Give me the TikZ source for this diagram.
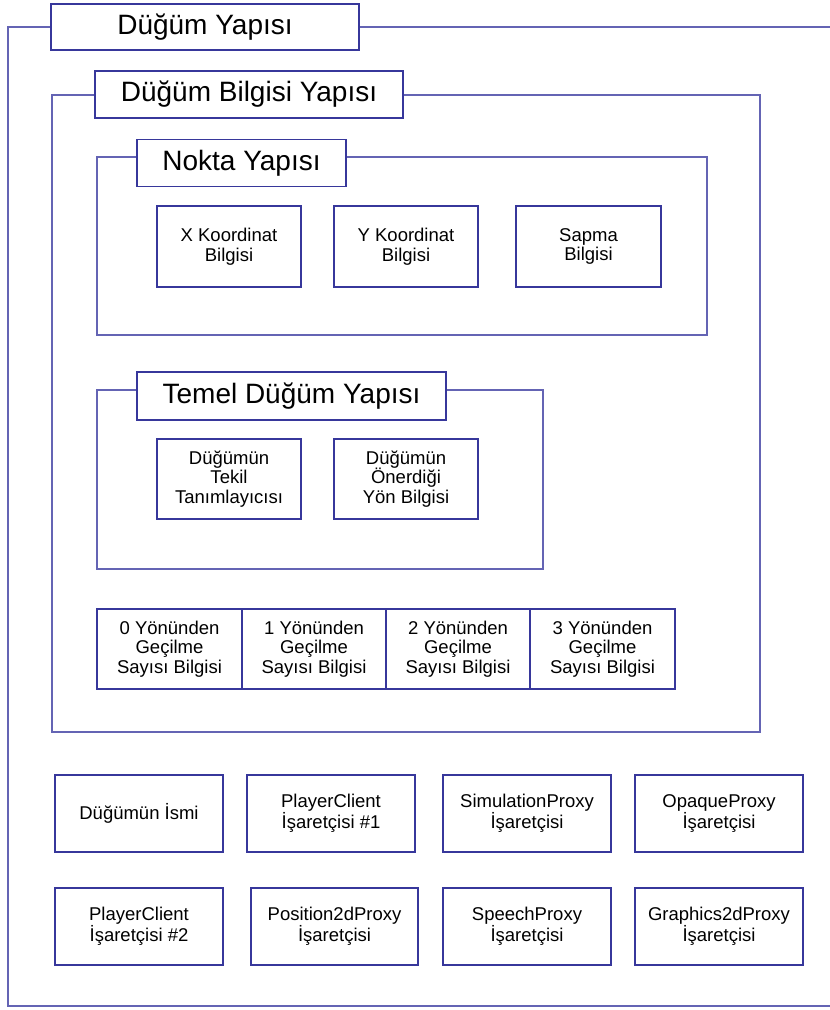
\documentclass[tikz,border=0pt]{standalone}
\usepackage{fontspec}
\setmainfont{Liberation Sans}
\definecolor{boxline}{RGB}{55,55,155}
\definecolor{frameline}{RGB}{100,100,180}
\begin{document}
\begin{tikzpicture}[x=1pt,y=-1pt,
  framepath/.style={draw=frameline, line width=1.2pt},
  sz/.style 2 args={minimum width=#1, minimum height=#2},
  titlebox/.style={draw=boxline, line width=1.7pt, fill=white, inner sep=0pt,
    font=\fontsize{28}{32}\selectfont},
  cell/.style={draw=boxline, line width=1.7pt, fill=white, inner sep=0pt,
    align=center, font=\fontsize{18.5}{19.5}\selectfont},
]
\useasboundingbox (0,0) rectangle (830,1010);

% frame corners
\coordinate (o-tr) at (830,27);   \coordinate (o-tl) at (8,27);
\coordinate (o-bl) at (8,1006);   \coordinate (o-br) at (830,1006);
\coordinate (b-tl) at (52,95);    \coordinate (b-br) at (760,732);
\coordinate (n-tl) at (97,157);   \coordinate (n-br) at (707,335);
\coordinate (t-tl) at (97,390);   \coordinate (t-br) at (543,569);

% frames
\draw[framepath] (o-tr) -- (o-tl) -- (o-bl) -- (o-br);
\draw[framepath] (b-tl) rectangle (b-br);
\draw[framepath] (n-tl) rectangle (n-br);
\draw[framepath] (t-tl) rectangle (t-br);

% frame titles
\node[titlebox, sz={308}{46}] (dugum)  at (205,27)    {Düğüm Yapısı};
\node[titlebox, sz={308}{47}] (bilgi)  at (249,94.5)  {Düğüm Bilgisi Yapısı};
\node[titlebox, sz={209}{47}] (nokta)  at (241.5,163) {Nokta Yapısı};
\node[titlebox, sz={309}{48}] (temel)  at (291.5,396) {Temel Düğüm Yapısı};

% point structure
\node[cell, sz={144}{81}] (xk) at (229,246.5)   {X Koordinat\\Bilgisi};
\node[cell, sz={144}{81}] (yk) at (406,246.5)   {Y Koordinat\\Bilgisi};
\node[cell, sz={145}{81}] (sp) at (588.5,246.5) {Sapma\\Bilgisi};

% basic node structure
\node[cell, sz={144}{80}] (tekil) at (229,479) {Düğümün\\Tekil\\Tanımlayıcısı};
\node[cell, sz={144}{80}] (yon)   at (406,479) {Düğümün\\Önerdiği\\Yön Bilgisi};

% pass counts per direction
\node[cell, sz={145}{80}] (g0) at (169.5,649) {0 Yönünden\\Geçilme\\Sayısı Bilgisi};
\node[cell, sz={144}{80}] (g1) at (314,649)   {1 Yönünden\\Geçilme\\Sayısı Bilgisi};
\node[cell, sz={144}{80}] (g2) at (458,649)   {2 Yönünden\\Geçilme\\Sayısı Bilgisi};
\node[cell, sz={145}{80}] (g3) at (602.5,649) {3 Yönünden\\Geçilme\\Sayısı Bilgisi};

% node name and proxy pointers
\node[cell, sz={168}{77}] (isim) at (139,813.5) {Düğümün İsmi};
\node[cell, sz={168}{77}] (pc1)  at (331,813.5) {PlayerClient\\İşaretçisi \#1};
\node[cell, sz={168}{77}] (sim)  at (527,813.5) {SimulationProxy\\İşaretçisi};
\node[cell, sz={168}{77}] (opq)  at (719,813.5) {OpaqueProxy\\İşaretçisi};
\node[cell, sz={168}{77}] (pc2)  at (139,926.5) {PlayerClient\\İşaretçisi \#2};
\node[cell, sz={167}{77}] (pos)  at (334.5,926.5) {Position2dProxy\\İşaretçisi};
\node[cell, sz={168}{77}] (spc)  at (527,926.5) {SpeechProxy\\İşaretçisi};
\node[cell, sz={168}{77}] (gfx)  at (719,926.5) {Graphics2dProxy\\İşaretçisi};
\end{tikzpicture}
\end{document}
